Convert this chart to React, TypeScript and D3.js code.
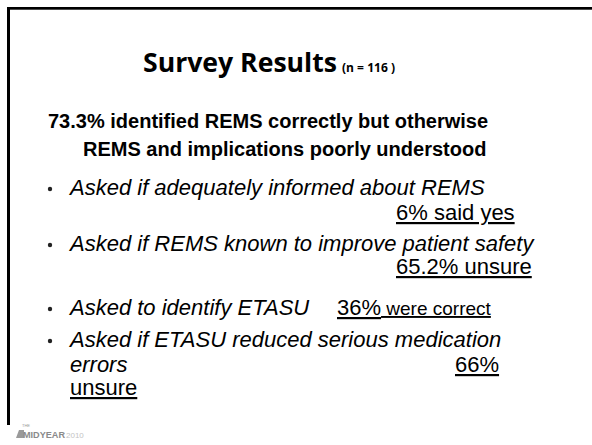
import React from "react";
import * as d3 from "d3";

const W = 592;
const H = 445;

const titleText = "Survey Results";
const sampleText = "(n = 116 )";
const headline = ["73.3% identified REMS correctly but otherwise", "REMS and implications poorly understood"];
const headlineX = [48, 83];

// each bullet: question lines, result (value + label), result placement
const questions: string[][] = [
  ["Asked if adequately informed about REMS"],
  ["Asked if REMS known to improve patient safety"],
  ["Asked to identify ETASU"],
  ["Asked if ETASU reduced serious medication", "errors"],
];
const resultValues = ["6%", "65.2%", "36%", "66%"];
const resultLabels = ["said yes", "unsure", "were correct", "unsure"];

const BODY = "'Liberation Sans', Arial, sans-serif";

export default function App() {
  // vertical layout of bullet baselines
  const bulletY = d3.scaleOrdinal<number, number>().domain([0, 1, 2, 3]).range([195, 251, 315, 347]);
  const lineGap = 25;

  return (
    <svg
      width={W}
      height={H}
      viewBox={`0 0 ${W} ${H}`}
      style={{ position: "absolute", left: 0, top: 0, display: "block", background: "#fff" }}
    >
      <rect x={0} y={0} width={W} height={H} fill="#fff" />
      {/* slide border */}
      <rect x={7} y={7} width={W - 7} height={2.7} fill="#000" />
      <rect x={7} y={7} width={3} height={418} fill="#000" />

      {/* title */}
      <text x={143} y={72} fontFamily="'Open Sans', sans-serif" fontWeight={700} fontSize={27.5} fill="#000" textLength={194} lengthAdjust="spacingAndGlyphs">
        {titleText}
      </text>
      <text x={342} y={72} fontFamily="'Open Sans', sans-serif" fontWeight={700} fontSize={11.5} fill="#000" textLength={53} lengthAdjust="spacingAndGlyphs">
        {sampleText}
      </text>

      {/* headline */}
      {headline.map((t, i) => (
        <text key={i} x={headlineX[i]} y={128 + i * 28} fontFamily={BODY} fontWeight={700} fontSize={20} fill="#000">
          {t}
        </text>
      ))}

      {/* bullets */}
      {questions.map((lines, i) => {
        const y0 = bulletY(i);
        return (
          <g key={i}>
            <circle cx={50} cy={y0 - 6} r={2.2} fill="#222" />
            {lines.map((l, j) => (
              <text key={j} x={70} y={y0 + j * lineGap} fontFamily={BODY} fontStyle="italic" fontSize={22} fill="#000">
                {l}
              </text>
            ))}
          </g>
        );
      })}

      {/* results */}
      <text x={396} y={220} fontFamily={BODY} fontSize={22} fill="#000" style={{ textDecoration: "underline" }}>
        {`${resultValues[0]} ${resultLabels[0]}`}
      </text>
      <text x={396} y={274} fontFamily={BODY} fontSize={22} fill="#000" style={{ textDecoration: "underline" }}>
        {`${resultValues[1]} ${resultLabels[1]}`}
      </text>
      <text x={337} y={315} fontFamily={BODY} fill="#000" style={{ textDecoration: "underline" }}>
        <tspan fontSize={22}>{resultValues[2]}</tspan>
        <tspan fontSize={19}>{` ${resultLabels[2]}`}</tspan>
      </text>
      <text x={455} y={372} fontFamily={BODY} fontSize={22} fill="#000" style={{ textDecoration: "underline" }}>
        {resultValues[3]}
      </text>
      <text x={70} y={395} fontFamily={BODY} fontSize={22} fill="#000" style={{ textDecoration: "underline" }}>
        {resultLabels[3]}
      </text>

      {/* logo */}
      <g>
        <polygon points="16,438 19,430 24,430 24,438" fill="#9a9a9a" />
        <text x={22} y={427} fontFamily={BODY} fontSize={4} fill="#9a9a9a">THE</text>
        <text x={23} y={438} fontFamily={BODY} fontWeight={700} fontSize={9} fill="#8a8a8a" textLength={42} lengthAdjust="spacingAndGlyphs">
          MIDYEAR
        </text>
        <text x={66} y={438} fontFamily={BODY} fontSize={8} fill="#c4c4c4">2010</text>
      </g>
    </svg>
  );
}
